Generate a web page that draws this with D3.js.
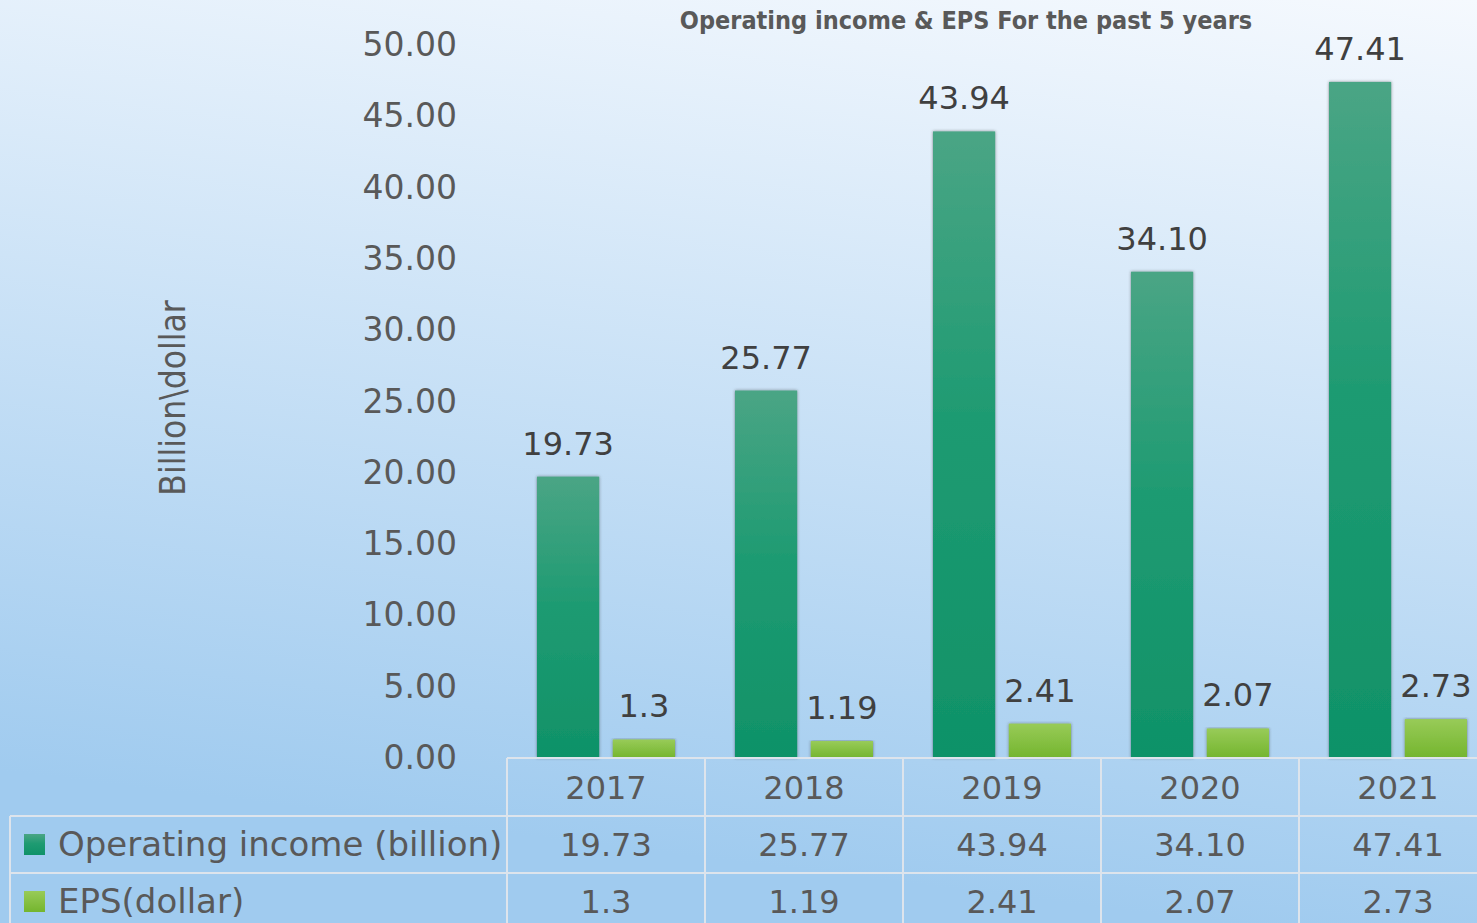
<!DOCTYPE html>
<html>
<head>
<meta charset="utf-8">
<script src="https://cdn.jsdelivr.net/npm/d3@7"></script>
<style>
  html, body { margin: 0; padding: 0; overflow: hidden; }
  body { width: 1477px; height: 923px; }
  text { font-family: "DejaVu Sans", Verdana, sans-serif; }
</style>
</head>
<body>
<div id="chart"></div>
<script>
// chart data
const years = ["2017", "2018", "2019", "2020", "2021"];
const seriesNames = ["Operating income (billion)", "EPS(dollar)"];
const incomeValues = [19.73, 25.77, 43.94, 34.10, 47.41];
const epsValues = [1.3, 1.19, 2.41, 2.07, 2.73];
const incomeLabels = ["19.73", "25.77", "43.94", "34.10", "47.41"];
const epsLabels = ["1.3", "1.19", "2.41", "2.07", "2.73"];
const yTickValues = [0, 5, 10, 15, 20, 25, 30, 35, 40, 45, 50];

const W = 1477, H = 923;
const plotLeft = 507, plotRight = 1497, plotTop = 45, plotBottom = 758;
const rowTops = [758, 816, 873, 930];

let svg = d3.select("#chart").append("svg")
    .attr("width", W)
    .attr("height", H);

let defs = svg.append("defs");

// background gradient
let bg = defs.append("linearGradient")
    .attr("id", "bgGrad")
    .attr("gradientUnits", "userSpaceOnUse")
    .attr("x1", 1477).attr("y1", 0)
    .attr("x2", 1360).attr("y2", 940);
bg.append("stop").attr("offset", 0).attr("stop-color", "#f5f9fe");
bg.append("stop").attr("offset", 1).attr("stop-color", "#a0cbef");

// bar gradients
let g1 = defs.append("linearGradient").attr("id", "darkGrad")
    .attr("x1", 0).attr("y1", 0).attr("x2", 0).attr("y2", 1);
g1.append("stop").attr("offset", 0).attr("stop-color", "#4aa585");
g1.append("stop").attr("offset", 0.45).attr("stop-color", "#1f9b72");
g1.append("stop").attr("offset", 1).attr("stop-color", "#0f9268");

let g2 = defs.append("linearGradient").attr("id", "lightGrad")
    .attr("x1", 0).attr("y1", 0).attr("x2", 0).attr("y2", 1);
g2.append("stop").attr("offset", 0).attr("stop-color", "#98cb58");
g2.append("stop").attr("offset", 1).attr("stop-color", "#74b52e");

let shadow = defs.append("filter").attr("id", "barShadow")
    .attr("x", "-20%").attr("y", "-5%").attr("width", "140%").attr("height", "110%");
shadow.append("feDropShadow")
    .attr("dx", 0).attr("dy", 0)
    .attr("stdDeviation", 1.6)
    .attr("flood-color", "#303030")
    .attr("flood-opacity", 0.55);

svg.append("rect")
    .attr("width", W).attr("height", H)
    .attr("fill", "url(#bgGrad)");

// scales
let x0 = d3.scaleBand().domain(years).range([plotLeft, plotRight]);
let x1 = d3.scaleBand().domain(seriesNames).range([30, 168]).paddingInner(0.18);
let y = d3.scaleLinear().domain([0, 50]).range([plotBottom, plotTop]);

// title
svg.append("text")
    .attr("x", 966)
    .attr("y", 29)
    .attr("text-anchor", "middle")
    .style("font-family", "'DejaVu Sans Condensed', 'DejaVu Sans', sans-serif")
    .style("font-weight", "bold")
    .style("font-size", "25px")
    .attr("fill", "#595959")
    .text("Operating income & EPS For the past 5 years");

// y axis label
svg.append("text")
    .attr("transform", "translate(185," + 398 + ") rotate(-90)")
    .attr("text-anchor", "middle")
    .style("font-family", "'DejaVu Sans Condensed', 'DejaVu Sans', sans-serif")
    .style("font-size", "35px")
    .attr("fill", "#595959")
    .text("Billion\\dollar");

// y axis
let yAxis = d3.axisLeft(y)
    .tickValues(yTickValues)
    .tickFormat(d3.format(".2f"))
    .tickSize(0)
    .tickPadding(10);
let yg = svg.append("g")
    .attr("transform", "translate(467,0)")
    .call(yAxis);
yg.select(".domain").remove();
yg.selectAll("text")
    .style("font-size", "33px")
    .style("font-family", "'DejaVu Sans', sans-serif")
    .attr("fill", "#595959");

// bars
let groups = svg.selectAll(".yearGroup")
    .data(years)
    .enter()
    .append("g")
    .attr("class", "yearGroup")
    .attr("transform", d => "translate(" + x0(d) + ",0)");

let barData = (d, i) => [
    { name: seriesNames[0], value: incomeValues[i], label: incomeLabels[i], fill: "url(#darkGrad)" },
    { name: seriesNames[1], value: epsValues[i], label: epsLabels[i], fill: "url(#lightGrad)" }
];

groups.selectAll("rect")
    .data(barData)
    .enter()
    .append("rect")
    .attr("x", d => x1(d.name))
    .attr("y", d => y(d.value))
    .attr("width", x1.bandwidth())
    .attr("height", d => y(0) - y(d.value))
    .attr("fill", d => d.fill)
    .attr("filter", "url(#barShadow)");

groups.selectAll(".barLabel")
    .data(barData)
    .enter()
    .append("text")
    .attr("class", "barLabel")
    .attr("x", d => x1(d.name) + x1.bandwidth() / 2)
    .attr("y", d => y(d.value) - 22)
    .attr("text-anchor", "middle")
    .style("font-size", "32px")
    .attr("fill", "#404040")
    .text(d => d.label);

// data table
let table = svg.append("g").attr("class", "dataTable");
let lineColor = "#dde4ec";

table.append("line")
    .attr("x1", plotLeft).attr("x2", plotRight)
    .attr("y1", rowTops[0]).attr("y2", rowTops[0])
    .attr("stroke", lineColor).attr("stroke-width", 2);
[rowTops[1], rowTops[2]].forEach(t => {
    table.append("line")
        .attr("x1", 10).attr("x2", plotRight)
        .attr("y1", t).attr("y2", t)
        .attr("stroke", lineColor).attr("stroke-width", 2);
});
table.append("line")
    .attr("x1", 10).attr("x2", 10)
    .attr("y1", rowTops[1]).attr("y2", H)
    .attr("stroke", lineColor).attr("stroke-width", 2);
years.forEach(yr => {
    table.append("line")
        .attr("x1", x0(yr)).attr("x2", x0(yr))
        .attr("y1", rowTops[0]).attr("y2", H)
        .attr("stroke", lineColor).attr("stroke-width", 2);
});

// header row
table.selectAll(".yearText")
    .data(years)
    .enter()
    .append("text")
    .attr("x", d => x0(d) + x0.bandwidth() / 2)
    .attr("y", rowTops[0] + 41)
    .attr("text-anchor", "middle")
    .style("font-size", "32px")
    .attr("fill", "#595959")
    .text(d => d);

// series rows
let rowLabels = [incomeLabels, epsLabels];
let swatches = ["url(#darkGrad)", "url(#lightGrad)"];
seriesNames.forEach((name, r) => {
    let top = rowTops[r + 1];
    table.append("rect")
        .attr("x", 24).attr("y", top + 18)
        .attr("width", 21).attr("height", 21)
        .attr("fill", swatches[r]);
    table.append("text")
        .attr("x", 58).attr("y", top + 40)
        .style("font-size", "34px")
        .attr("fill", "#595959")
        .text(name);
    table.selectAll(".row" + r)
        .data(years)
        .enter()
        .append("text")
        .attr("class", "row" + r)
        .attr("x", d => x0(d) + x0.bandwidth() / 2)
        .attr("y", top + 40)
        .attr("text-anchor", "middle")
        .style("font-size", "32px")
        .attr("fill", "#595959")
        .text((d, i) => rowLabels[r][i]);
});
</script>
</body>
</html>
